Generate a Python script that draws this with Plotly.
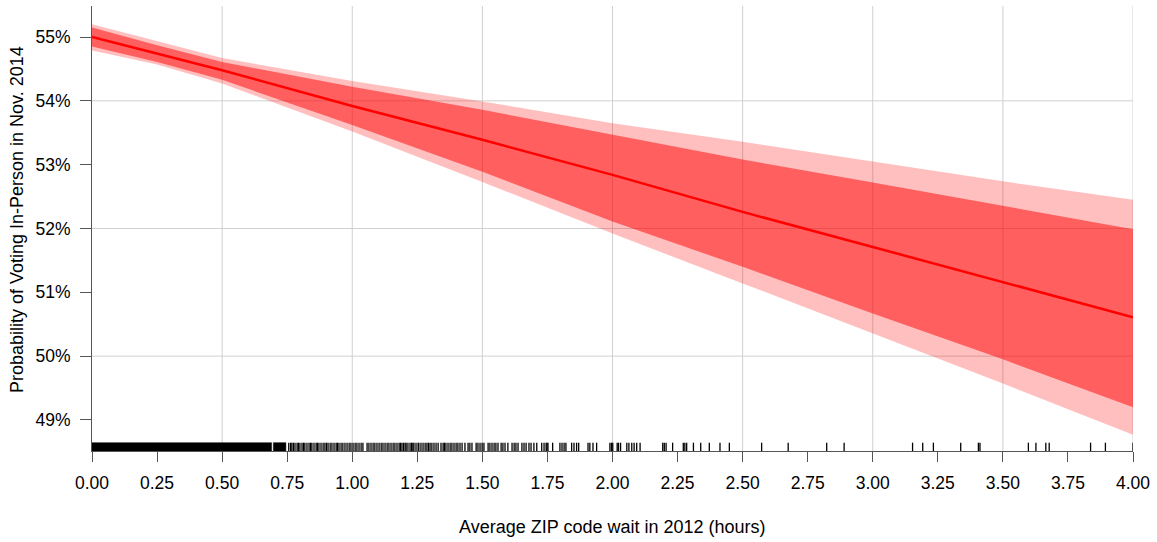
import plotly.graph_objects as go

# ---------------- data ----------------
wait_hours = [0.0, 0.25, 0.5, 1.0, 1.5, 2.0, 2.5, 3.0, 3.5, 4.0]
fit_pct = [55.00, 54.74, 54.48, 53.92, 53.39, 52.84, 52.26, 51.71, 51.16, 50.61]
ci95_hi = [55.15, 54.87, 54.61, 54.22, 53.86, 53.47, 53.08, 52.72, 52.35, 51.99]
ci95_lo = [54.85, 54.61, 54.33, 53.62, 52.89, 52.11, 51.40, 50.67, 49.95, 49.20]
ci99_hi = [55.20, 54.93, 54.67, 54.31, 53.99, 53.65, 53.36, 53.05, 52.74, 52.45]
ci99_lo = [54.79, 54.57, 54.27, 53.52, 52.73, 51.92, 51.14, 50.36, 49.57, 48.77]

# rug: saturated stretches (start, end) and individual observations
rug_blocks = [[0.0, 0.690], [0.697, 0.745]]
rug_ticks = [
    0.756, 0.763, 0.768, 0.774, 0.780, 0.788, 0.793, 0.799, 0.807, 0.813,
    0.818, 0.826, 0.834, 0.840, 0.845, 0.853, 0.861, 0.866, 0.872, 0.880,
    0.888, 0.895, 0.901, 0.907, 0.915, 0.922, 0.930, 0.938, 0.943, 0.949,
    0.957, 0.964, 0.972, 0.980, 0.988, 0.995, 1.003, 1.011, 1.018, 1.026,
    1.034, 1.041, 1.057, 1.064, 1.072, 1.080, 1.087, 1.095, 1.103, 1.111,
    1.118, 1.126, 1.134, 1.141, 1.149, 1.157, 1.164, 1.172, 1.180,
    1.185, 1.191, 1.197, 1.203, 1.207, 1.214, 1.222, 1.228, 1.233, 1.237,
    1.245, 1.253, 1.256, 1.264, 1.272, 1.280, 1.287, 1.293, 1.299, 1.306,
    1.314, 1.322, 1.330, 1.341, 1.349, 1.354, 1.360, 1.368, 1.376, 1.383,
    1.391, 1.399, 1.406, 1.414, 1.422, 1.433, 1.445, 1.452, 1.460, 1.476,
    1.483, 1.491, 1.499, 1.506, 1.522, 1.529, 1.537, 1.545, 1.552, 1.560,
    1.572, 1.579, 1.587, 1.598, 1.614, 1.622, 1.629, 1.637, 1.652, 1.660,
    1.668, 1.679,
    1.687, 1.698, 1.709, 1.728, 1.737, 1.745, 1.748, 1.752, 1.770, 1.798,
    1.806, 1.814, 1.821, 1.843, 1.852, 1.862, 1.870, 1.906, 1.913, 1.925,
    1.939, 1.990, 1.996, 2.001, 2.018, 2.023, 2.031, 2.055, 2.063, 2.074,
    2.083, 2.093, 2.106,
    2.193, 2.199, 2.206, 2.231, 2.272, 2.278, 2.285, 2.311, 2.339, 2.372,
    2.413, 2.449, 2.573, 2.675, 2.823, 2.890, 3.153, 3.192, 3.233, 3.338,
    3.406, 3.412, 3.598, 3.627, 3.665, 3.678, 3.837, 3.894, 4.000,
]

x_tick_vals = [0.0, 0.25, 0.5, 0.75, 1.0, 1.25, 1.5, 1.75, 2.0, 2.25, 2.5,
               2.75, 3.0, 3.25, 3.5, 3.75, 4.0]
x_tick_text = ["0.00", "0.25", "0.50", "0.75", "1.00", "1.25", "1.50", "1.75",
               "2.00", "2.25", "2.50", "2.75", "3.00", "3.25", "3.50", "3.75",
               "4.00"]
y_tick_vals = [49, 50, 51, 52, 53, 54, 55]
y_tick_text = ["49%", "50%", "51%", "52%", "53%", "54%", "55%"]
x_grid_vals = [0.5, 1.0, 1.5, 2.0, 2.5, 3.0, 3.5, 4.0]
y_grid_vals = [50, 52, 54]

X_RANGE = [0.0, 4.0]
Y_RANGE = [48.514, 55.486]
RUG_TOP = 48.644

FONT = "Liberation Sans, Arial, sans-serif"

# ---------------- figure ----------------
fig = go.Figure()

fig.add_trace(go.Scatter(
    x=wait_hours + wait_hours[::-1], y=ci99_hi + ci99_lo[::-1],
    fill="toself", fillcolor="rgba(255,0,0,0.25)", mode="lines",
    line=dict(width=0), hoverinfo="skip", showlegend=False))
fig.add_trace(go.Scatter(
    x=wait_hours + wait_hours[::-1], y=ci95_hi + ci95_lo[::-1],
    fill="toself", fillcolor="rgba(255,0,0,0.5)", mode="lines",
    line=dict(width=0), hoverinfo="skip", showlegend=False))
fig.add_trace(go.Scatter(
    x=wait_hours, y=fit_pct, mode="lines",
    line=dict(color="#ff0000", width=2.5), showlegend=False))

# rug ticks
rx, ry = [], []
for v in rug_ticks:
    rx += [v, v, None]
    ry += [Y_RANGE[0], RUG_TOP, None]
fig.add_trace(go.Scatter(x=rx, y=ry, mode="lines",
                         line=dict(color="black", width=1.3),
                         hoverinfo="skip", showlegend=False))
for a, b in rug_blocks:
    fig.add_trace(go.Scatter(
        x=[a, b, b, a, a],
        y=[Y_RANGE[0], Y_RANGE[0], RUG_TOP, RUG_TOP, Y_RANGE[0]],
        fill="toself", fillcolor="black", mode="lines",
        line=dict(width=0.5, color="black"), hoverinfo="skip",
        showlegend=False))

# grid lines (every other tick)
for gx in x_grid_vals:
    fig.add_shape(type="line", xref="x", yref="paper", x0=gx, x1=gx,
                  y0=0, y1=1, line=dict(color="#d0d0d0", width=1),
                  layer="below")
for gy in y_grid_vals:
    fig.add_shape(type="line", xref="paper", yref="y", x0=0, x1=1,
                  y0=gy, y1=gy, line=dict(color="#d0d0d0", width=1),
                  layer="below")

fig.update_layout(
    width=1157, height=542,
    margin=dict(l=92, r=24, t=6, b=91),
    plot_bgcolor="white", paper_bgcolor="white",
    font=dict(family=FONT, size=17.5, color="#000000"),
    showlegend=False,
    xaxis=dict(
        range=X_RANGE, tickmode="array", tickvals=x_tick_vals,
        ticktext=x_tick_text,
        showgrid=False, zeroline=False,
        showline=True, linecolor="#555555", linewidth=1,
        ticks="outside", ticklen=10, tickcolor="#555555", tickwidth=1,
        ticklabelstandoff=6,
    ),
    yaxis=dict(
        range=Y_RANGE, tickmode="array", tickvals=y_tick_vals,
        ticktext=y_tick_text,
        showgrid=False, zeroline=False,
        showline=True, linecolor="#555555", linewidth=1,
        ticks="outside", ticklen=11, tickcolor="#555555", tickwidth=1,
        ticklabelstandoff=6,
    ),
    annotations=[
        dict(text="Average ZIP code wait in 2012 (hours)",
             xref="paper", yref="paper", x=0.5, y=-0.171,
             xanchor="center", yanchor="middle", showarrow=False,
             font=dict(family=FONT, size=18, color="#000000")),
        dict(text="Probability of Voting In-Person in Nov. 2014",
             xref="paper", yref="paper", x=-0.072, y=0.519,
             xanchor="center", yanchor="middle", showarrow=False,
             textangle=-90,
             font=dict(family=FONT, size=18, color="#000000")),
    ],
)

fig.write_html("out.html")
